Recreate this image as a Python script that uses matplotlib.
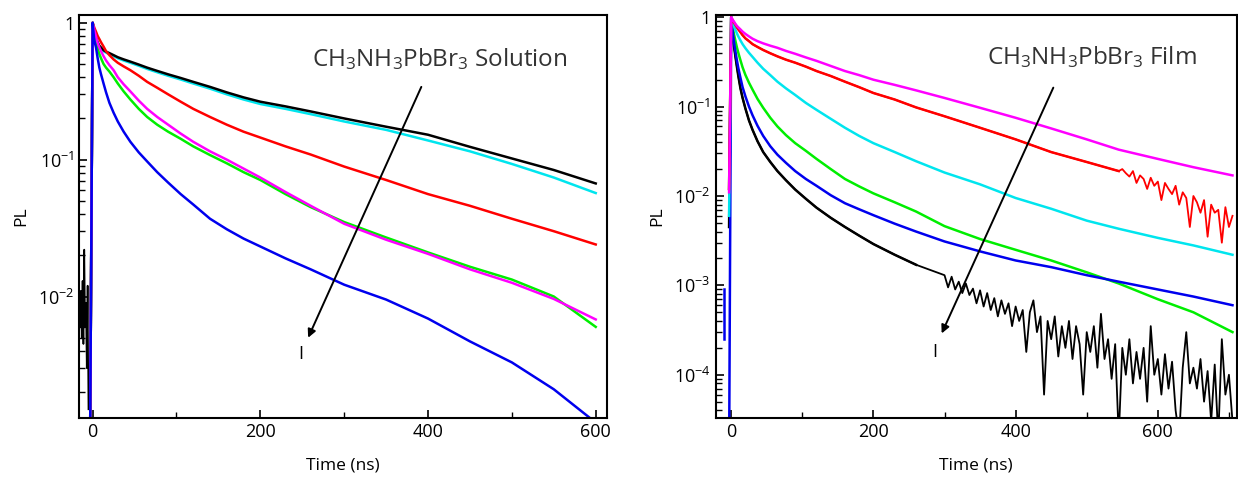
import numpy as np
import matplotlib.pyplot as plt
from matplotlib.ticker import FixedLocator, LogLocator, FuncFormatter, NullFormatter

plt.rcParams['font.family'] = ['Open Sans', 'DejaVu Sans']
plt.rcParams['mathtext.fontset'] = 'custom'
plt.rcParams['mathtext.rm'] = 'Open Sans'
plt.rcParams['mathtext.it'] = 'Open Sans'

# ---- solution panel (times in ns) ----
t_sol = [-4, 0, 1, 2, 4, 6, 8, 10, 13, 16, 20, 25, 30, 37, 45, 55, 65, 77, 90, 105, 120,
         140, 160, 180, 200, 230, 260, 300, 350, 400, 450, 500, 550, 600]
sol_black = [1e-4, 1, 0.93, 0.87, 0.78, 0.72, 0.68, 0.66, 0.63, 0.615, 0.60, 0.58, 0.56, 0.54, 0.52, 0.495, 0.47,
             0.445, 0.42, 0.395, 0.37, 0.34, 0.31, 0.285, 0.265, 0.245, 0.225, 0.20, 0.174, 0.152, 0.124, 0.102, 0.084, 0.067]
sol_cyan = [1e-4, 1, 0.93, 0.87, 0.77, 0.71, 0.67, 0.65, 0.62, 0.605, 0.59, 0.57, 0.55, 0.53, 0.51, 0.485, 0.46,
            0.435, 0.41, 0.385, 0.36, 0.33, 0.30, 0.275, 0.255, 0.235, 0.215, 0.19, 0.165, 0.138, 0.115, 0.093, 0.074, 0.057]
sol_red = [1e-4, 1, 0.96, 0.92, 0.86, 0.80, 0.76, 0.72, 0.67, 0.62, 0.58, 0.54, 0.51, 0.48, 0.45, 0.41, 0.37,
           0.335, 0.30, 0.265, 0.235, 0.205, 0.18, 0.16, 0.145, 0.125, 0.109, 0.089, 0.071, 0.056, 0.046, 0.037, 0.030, 0.024]
sol_green = [1e-4, 1, 0.92, 0.85, 0.74, 0.65, 0.59, 0.55, 0.50, 0.47, 0.44, 0.40, 0.36, 0.315, 0.275, 0.235, 0.205,
             0.18, 0.16, 0.142, 0.125, 0.108, 0.094, 0.081, 0.071, 0.056, 0.045, 0.035, 0.027, 0.021, 0.0165, 0.0133, 0.0100, 0.0060]
sol_magenta = [1e-4, 1, 0.94, 0.88, 0.79, 0.71, 0.66, 0.62, 0.57, 0.53, 0.49, 0.45, 0.40, 0.355, 0.315, 0.27, 0.235,
               0.205, 0.18, 0.155, 0.135, 0.115, 0.100, 0.086, 0.074, 0.058, 0.046, 0.034, 0.026, 0.0205, 0.0158, 0.0126, 0.0096, 0.0068]
sol_blue = [1e-4, 1, 0.85, 0.74, 0.66, 0.55, 0.47, 0.42, 0.36, 0.31, 0.26, 0.22, 0.19, 0.16, 0.135, 0.113, 0.097,
            0.081, 0.068, 0.056, 0.047, 0.037, 0.031, 0.0265, 0.0232, 0.019, 0.0158, 0.0122, 0.0095, 0.0069, 0.0047, 0.0033, 0.0021, 0.0012]
# noisy background of the black trace before the pulse
pre_t_sol = [-15, -14, -13, -12, -11, -10, -9, -8, -7, -6, -5]
pre_black_sol = [0.006, 0.011, 0.005, 0.013, 0.0045, 0.022, 0.006, 0.009, 0.003, 0.012, 0.0015]

# ---- film panel ----
t_film = [-3, 0, 1, 2, 4, 6, 8, 10, 13, 16, 20, 25, 30, 37, 45, 55, 65, 77, 90, 105, 120,
          140, 160, 180, 200, 230, 260, 300, 350, 400, 450, 500, 545, 600, 650, 705]
film_magenta = [0.011, 1, 0.97, 0.94, 0.89, 0.84, 0.80, 0.77, 0.73, 0.69, 0.65, 0.61, 0.575, 0.54, 0.51, 0.48, 0.455,
                0.42, 0.39, 0.355, 0.325, 0.285, 0.25, 0.225, 0.20, 0.175, 0.152, 0.125, 0.097, 0.075, 0.057, 0.043, 0.033,
                0.026, 0.021, 0.017]
film_cyan = [0.006, 1, 0.94, 0.88, 0.79, 0.72, 0.66, 0.61, 0.55, 0.50, 0.45, 0.40, 0.36, 0.31, 0.265, 0.225, 0.19,
             0.16, 0.135, 0.11, 0.092, 0.073, 0.058, 0.047, 0.039, 0.031, 0.0245, 0.0183, 0.0135, 0.0095, 0.0072, 0.0053, 0.0043,
             0.0034, 0.0028, 0.0022]
film_green = [0.012, 1, 0.88, 0.78, 0.64, 0.54, 0.46, 0.40, 0.33, 0.275, 0.226, 0.185, 0.155, 0.122, 0.097, 0.075, 0.06,
              0.048, 0.039, 0.032, 0.026, 0.020, 0.0155, 0.0128, 0.0107, 0.0085, 0.0067, 0.0046, 0.0033, 0.0025, 0.0019, 0.0014, 0.00105,
              0.0007, 0.0005, 0.0003]
film_blue = [1e-5, 1, 0.82, 0.70, 0.52, 0.41, 0.33, 0.27, 0.21, 0.165, 0.13, 0.10, 0.08, 0.061, 0.047, 0.036, 0.029,
             0.0235, 0.019, 0.0155, 0.013, 0.0102, 0.0083, 0.0071, 0.0061, 0.0049, 0.0040, 0.0031, 0.0024, 0.0019, 0.0016, 0.0013, 0.0011,
             0.0009, 0.00075, 0.0006]
film_red = [0.012, 1, 0.96, 0.92, 0.87, 0.82, 0.77, 0.73, 0.68, 0.63, 0.58, 0.54, 0.50, 0.465, 0.43, 0.395, 0.365,
            0.335, 0.31, 0.28, 0.25, 0.22, 0.19, 0.165, 0.142, 0.12, 0.098, 0.078, 0.058, 0.043, 0.031, 0.024, 0.019]
film_black = [0.0045, 1, 0.80, 0.65, 0.47, 0.36, 0.28, 0.22, 0.16, 0.125, 0.095, 0.07, 0.055, 0.041, 0.031, 0.024, 0.019,
              0.015, 0.0118, 0.0093, 0.0074, 0.0057, 0.0045, 0.0036, 0.0029, 0.0022, 0.0017]
# noisy red tail, 550..705 ns every 5 ns
t_red_tail = list(range(550, 706, 5))
film_red_tail = [0.020, 0.018, 0.0165, 0.019, 0.014, 0.017, 0.0155, 0.012, 0.016, 0.013, 0.0145, 0.009, 0.014, 0.012,
                 0.0105, 0.013, 0.008, 0.011, 0.0095, 0.0045, 0.010, 0.0085, 0.0065, 0.009, 0.0035, 0.008, 0.0065, 0.007,
                 0.003, 0.0075, 0.0045, 0.006]
# black trace is very noisy from 300 ns on
t_black_tail = list(range(300, 706, 5))
film_black_tail = [1.3e-3, 0.95e-3, 1.25e-3, 0.9e-3, 1.1e-3, 0.82e-3, 1.05e-3, 0.78e-3, 0.92e-3, 0.63e-3,
                   0.88e-3, 0.58e-3, 0.82e-3, 0.53e-3, 0.72e-3, 0.45e-3, 0.68e-3, 0.48e-3, 0.63e-3, 0.35e-3,
                   0.58e-3, 0.4e-3, 0.53e-3, 0.18e-3, 0.5e-3, 0.68e-3, 0.3e-3, 0.45e-3, 0.06e-3, 0.4e-3,
                   0.25e-3, 0.45e-3, 0.16e-3, 0.35e-3, 0.2e-3, 0.4e-3, 0.15e-3, 0.35e-3, 0.22e-3, 0.06e-3,
                   0.3e-3, 0.18e-3, 0.35e-3, 0.12e-3, 0.48e-3, 0.15e-3, 0.25e-3, 0.09e-3, 0.22e-3, 0.02e-3,
                   0.2e-3, 0.1e-3, 0.25e-3, 0.08e-3, 0.18e-3, 0.09e-3, 0.2e-3, 0.05e-3, 0.35e-3, 0.1e-3,
                   0.15e-3, 0.06e-3, 0.17e-3, 0.07e-3, 0.14e-3, 0.04e-3, 0.02e-3, 0.12e-3, 0.3e-3, 0.08e-3,
                   0.12e-3, 0.07e-3, 0.15e-3, 0.05e-3, 0.11e-3, 0.03e-3, 0.13e-3, 0.02e-3, 0.25e-3, 0.06e-3,
                   0.1e-3, 0.03e-3]
blue_pre_t = [-10, -10]
blue_pre = [2.5e-4, 9e-4]


def style_axes(ax, xlim, ylim, yticks):
    ax.set_yscale('log')
    ax.set_xlim(*xlim)
    ax.set_ylim(*ylim)
    ax.yaxis.set_major_locator(FixedLocator(yticks))
    ax.yaxis.set_minor_locator(LogLocator(base=10, subs=np.arange(2, 10)))
    ax.yaxis.set_minor_formatter(NullFormatter())
    ax.yaxis.set_major_formatter(FuncFormatter(
        lambda v, p: '1' if abs(v - 1) < 1e-9 else r'$\mathregular{10^{%d}}$' % round(np.log10(v))))
    ax.xaxis.set_major_locator(FixedLocator([0, 200, 400, 600]))
    ax.xaxis.set_minor_locator(FixedLocator([100, 300, 500, 700]))
    ax.tick_params(which='both', direction='in', top=False, right=False, labelsize=13)
    ax.tick_params(which='major', length=6, width=1.2)
    ax.tick_params(which='minor', length=4, width=1)
    for s in ax.spines.values():
        s.set_linewidth(1.5)
    ax.set_xlabel('Time (ns)', fontsize=12.5, labelpad=12)
    ax.set_ylabel('PL', fontsize=12.5, labelpad=6)


fig = plt.figure(figsize=(12.38, 4.83), dpi=100)
ax1 = fig.add_axes([0.064, 0.135, 0.426, 0.834])
ax2 = fig.add_axes([0.578, 0.135, 0.421, 0.834])

lw = 1.8
tw = 1.3
ax1.plot(pre_t_sol, pre_black_sol, color='black', lw=1.2)
ax1.plot(t_sol, sol_cyan, color='#00e5ee', lw=lw)
ax1.plot(t_sol, sol_black, color='black', lw=lw)
ax1.plot(t_sol, sol_red, color='#ff0000', lw=lw)
ax1.plot(t_sol, sol_green, color='#00ee00', lw=lw)
ax1.plot(t_sol, sol_magenta, color='#ff00ff', lw=lw)
ax1.plot(t_sol, sol_blue, color='#0000ee', lw=lw)
style_axes(ax1, (-16, 613), (1.3e-3, 1.14), [1e-2, 1e-1, 1])

nb = len(film_black)
ax2.plot(t_film[:nb] + t_black_tail, film_black + film_black_tail, color='black', lw=tw)
ax2.plot(t_film[:nb], film_black, color='black', lw=lw)
ax2.plot(t_film, film_green, color='#00ee00', lw=lw)
ax2.plot(t_film, film_blue, color='#0000ee', lw=lw)
ax2.plot(blue_pre_t, blue_pre, color='#0000ee', lw=lw)
ax2.plot(t_film, film_cyan, color='#00e5ee', lw=lw)
nr = len(film_red)
ax2.plot(t_film[:nr] + t_red_tail, film_red + film_red_tail, color='#ff0000', lw=tw)
ax2.plot(t_film[:nr], film_red, color='#ff0000', lw=lw)
ax2.plot(t_film, film_magenta, color='#ff00ff', lw=lw)
style_axes(ax2, (-22, 711), (3.3e-5, 1.06), [1e-4, 1e-3, 1e-2, 1e-1, 1])

label_kw = dict(fontsize=17.5, color='#333333', ha='center', va='center')
arrow_kw = dict(arrowstyle='-|>', color='black', lw=1.4, mutation_scale=12, shrinkA=0, shrinkB=0)
ax1.text(414, 0.54, r'CH$_3$NH$_3$PbBr$_3$ Solution', **label_kw)
ax1.annotate('', xy=(257, 5.0e-3), xytext=(392, 0.34), arrowprops=arrow_kw)
ax1.text(248, 3.8e-3, 'I', fontsize=13, ha='center', va='center')

ax2.text(507, 0.36, r'CH$_3$NH$_3$PbBr$_3$ Film', **label_kw)
ax2.annotate('', xy=(296, 2.9e-4), xytext=(453, 0.163), arrowprops=arrow_kw)
ax2.text(286, 1.8e-4, 'I', fontsize=13, ha='center', va='center')

fig.savefig('out.png', dpi=100)
